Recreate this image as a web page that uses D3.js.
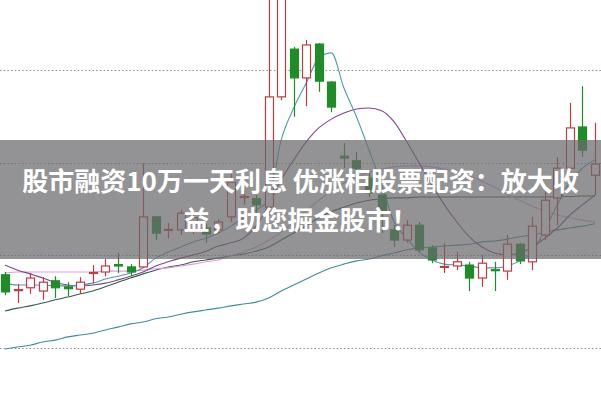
<!DOCTYPE html>
<html><head><meta charset="utf-8">
<script src="https://cdn.jsdelivr.net/npm/d3@7/dist/d3.min.js"></script>
<style>html,body{margin:0;padding:0;background:#fff;}svg{display:block;}</style>
</head><body>
<svg id="c" width="601" height="400"></svg>
<script>
// Candle data (price units), index 0..47
const opens  = [9.58,9.24,9.30,9.23,9.45,9.32,9.27,9.61,9.64,9.80,9.75,9.75,10.83,10.54,10.55,10.55,10.59,10.55,10.83,11.25,11.22,11.04,13.42,14.45,13.83,14.56,13.74,12.14,12.04,11.67,11.30,10.55,10.33,10.65,10.16,9.74,9.77,9.79,9.51,9.69,9.66,10.24,9.86,10.44,11.24,11.88,12.77,11.73];
const highs  = [9.64,9.38,9.62,9.53,9.55,9.42,9.53,9.79,9.92,10.05,9.81,11.99,10.85,10.70,10.98,10.89,10.68,10.78,11.84,11.41,11.30,15.94,16.16,14.50,14.65,14.58,13.76,12.42,12.23,11.80,11.41,10.65,10.76,10.72,10.22,10.27,10.07,9.86,10.01,9.86,10.44,10.27,10.83,11.41,12.12,13.29,13.65,12.86];
const lows   = [9.14,8.97,9.17,9.04,9.08,9.12,9.17,9.40,9.55,9.62,9.55,9.73,10.33,10.37,10.44,10.46,10.27,10.48,10.72,11.09,10.91,10.87,13.35,12.99,13.22,13.53,13.09,11.88,11.47,11.26,10.48,10.18,10.27,10.07,9.83,9.62,9.68,9.23,9.32,9.23,9.47,9.81,9.68,10.33,10.65,11.73,12.12,11.30];
const closes = [9.21,9.26,9.51,9.42,9.30,9.28,9.42,9.63,9.77,9.77,9.64,10.83,10.48,10.56,10.91,10.81,10.46,10.72,11.58,11.27,11.09,13.42,15.62,13.83,14.54,13.76,13.20,12.10,11.88,11.35,10.94,10.33,10.65,10.12,9.90,9.76,9.86,9.51,9.83,9.67,10.24,9.88,10.63,11.19,11.88,12.75,12.27,11.97];

// Moving averages
const ma5  = [9.40,9.36,9.36,9.36,9.34,9.34,9.36,9.40,9.49,9.55,9.62,9.73,9.94,10.07,10.18,10.29,10.37,10.48,10.63,10.81,10.98,11.19,12.49,13.18,13.72,14.26,14.37,13.61,12.99,12.27,11.52,10.72,10.37,10.07,9.90,9.81,9.79,9.77,9.73,9.73,9.77,9.88,10.07,10.55,11.09,11.58,11.88,12.06];
const ma10 = [9.79,9.68,9.60,9.51,9.42,9.36,9.34,9.36,9.40,9.47,9.55,9.64,9.77,9.86,9.94,10.01,10.09,10.20,10.27,10.37,10.63,11.09,11.63,12.06,12.45,12.75,12.94,13.07,13.16,13.18,13.12,12.88,12.45,11.99,11.52,11.09,10.72,10.40,10.18,10.05,10.01,10.05,10.18,10.37,10.59,10.87,11.09,11.30];
const ma20 = [9.62,9.64,9.64,9.64,9.64,9.64,9.64,9.64,9.66,9.66,9.66,9.68,9.71,9.73,9.77,9.81,9.86,9.90,9.99,10.07,10.18,10.33,10.50,10.72,10.96,11.19,11.39,11.56,11.69,11.80,11.86,11.91,11.93,11.93,11.91,11.86,11.80,11.71,11.60,11.47,11.32,11.19,11.06,10.96,10.87,10.81,10.76,10.72];
const ma30 = [8.80,8.86,8.91,8.97,9.04,9.10,9.17,9.23,9.32,9.42,9.51,9.60,9.68,9.75,9.79,9.86,9.90,9.94,9.99,10.03,10.09,10.18,10.33,10.48,10.65,10.81,10.94,11.04,11.13,11.19,11.22,11.24,11.24,11.26,11.26,11.26,11.26,11.26,11.26,11.26,11.26,11.26,11.26,11.26,11.27,11.27,11.28,11.28];
const ma60 = [7.98,8.02,8.06,8.13,8.17,8.24,8.28,8.32,8.39,8.45,8.52,8.56,8.63,8.67,8.73,8.78,8.82,8.86,8.91,8.95,8.99,9.08,9.23,9.36,9.49,9.62,9.73,9.81,9.88,9.92,9.99,10.05,10.12,10.16,10.18,10.20,10.22,10.24,10.29,10.31,10.35,10.40,10.44,10.50,10.55,10.59,10.63,10.68];

const gridValues = [8, 10, 12, 14];
const titleLines = ["股市融资10万一天利息 优涨柜股票配资：放大收", "益，助您掘金股市！"];

const W = 601, H = 400;
const svg = d3.select("#c");
svg.append("rect").attr("width", W).attr("height", H).attr("fill", "#fff");

const idx = d3.range(opens.length);
const x = d3.scalePoint().domain(idx).range([5, 595]);
const y = d3.scaleLinear().domain([8, 14]).range([348, 70]);

const clip = svg.append("defs").append("clipPath").attr("id", "plot")
  .append("rect").attr("x", 0).attr("y", 0).attr("width", W).attr("height", H);

const g = svg.append("g").attr("clip-path", "url(#plot)");

// dotted grid
g.append("g").selectAll("line").data(gridValues).join("line")
  .attr("x1", 0).attr("x2", W)
  .attr("y1", d => Math.round(y(d)) + 0.5).attr("y2", d => Math.round(y(d)) + 0.5)
  .attr("stroke", "#8c8c8c").attr("stroke-width", 1).attr("stroke-dasharray", "1.5,2.2");

// moving averages
const mas = [
  {v: ma60, c: "#3e8f9c"},
  {v: ma30, c: "#345f46"},
  {v: ma20, c: "#e29be6"},
  {v: ma10, c: "#85428e"},
  {v: ma5,  c: "#4e9dad"}
];
const line = d3.line().x((d, i) => x(i)).y(d => y(d)).curve(d3.curveMonotoneX);
g.append("g").selectAll("path").data(mas).join("path")
  .attr("d", d => line(d.v)).attr("fill", "none")
  .attr("stroke", d => d.c).attr("stroke-width", 1.1);

// candles
const RED = "#c23b3f", GREEN = "#1e8d27";
const cg = g.append("g").selectAll("g").data(idx).join("g");
cg.each(function(i) {
  const s = d3.select(this);
  const up = closes[i] >= opens[i];
  const col = up ? RED : GREEN;
  const cx = Math.round(x(i)) + 0.5;
  s.append("line").attr("x1", cx).attr("x2", cx)
    .attr("y1", y(highs[i])).attr("y2", y(lows[i]))
    .attr("stroke", col).attr("stroke-width", 1.2);
  const top = y(Math.max(opens[i], closes[i]));
  const bot = y(Math.min(opens[i], closes[i]));
  const h = Math.max(bot - top, 1);
  s.append("rect").attr("x", cx - 4).attr("y", top).attr("width", 8).attr("height", h)
    .attr("fill", up ? "#fff" : GREEN).attr("stroke", col).attr("stroke-width", 1.2);
});

// banner overlay
svg.append("rect").attr("x", 0).attr("y", 140).attr("width", W).attr("height", 119)
  .attr("fill", "rgba(105,105,108,0.72)");
svg.append("g").selectAll("text").data(titleLines).join("text")
  .attr("x", 300.5).attr("y", (d, i) => i === 0 ? 191 : 230)
  .attr("text-anchor", "middle")
  .attr("font-family", "'Noto Sans CJK SC', 'Noto Sans', sans-serif")
  .attr("font-weight", 700).attr("font-size", 26).attr("fill", "#fff")
  .text(d => d);
</script>
</body></html>
